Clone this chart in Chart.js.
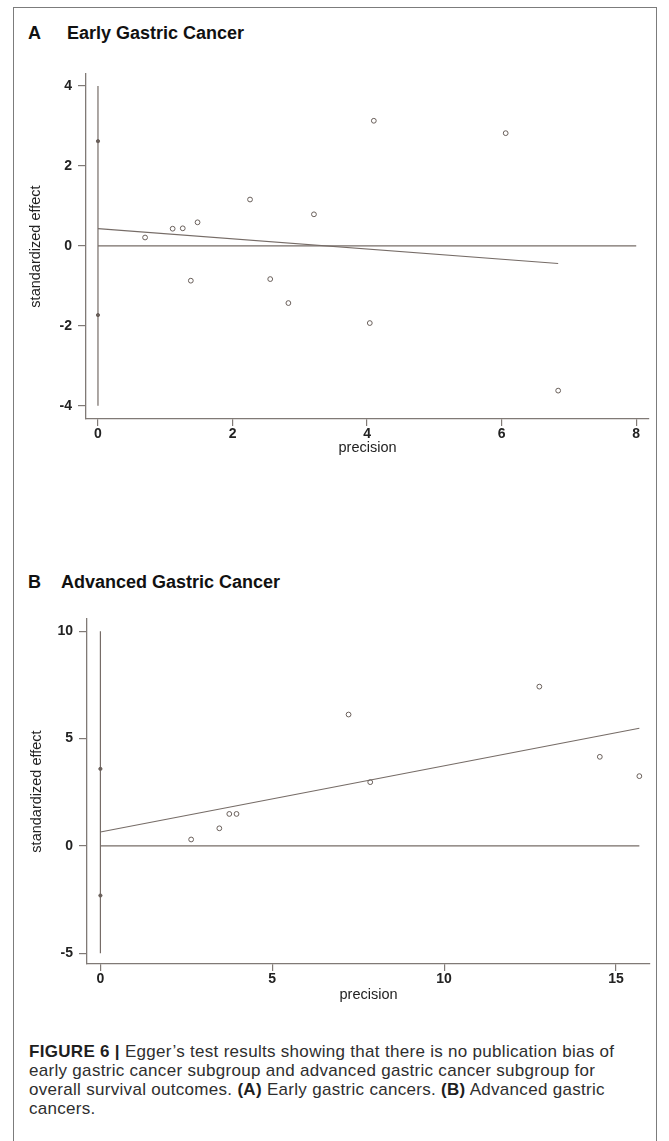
<!DOCTYPE html>
<html>
<head>
<meta charset="utf-8">
<script src="https://cdn.jsdelivr.net/npm/chart.js@4.4.1/dist/chart.umd.min.js"></script>
<style>
html,body{margin:0;padding:0;background:#fff;}
body{width:669px;height:1141px;position:relative;overflow:hidden;font-family:"Liberation Sans",Arial,sans-serif;}
#frame{position:absolute;left:13px;top:7px;width:644px;height:1160px;border:1.5px solid #7c7c7c;box-sizing:border-box;}
.ptitle{position:absolute;font-weight:bold;font-size:18px;line-height:18px;color:#111;white-space:nowrap;}
canvas.cv{position:absolute;left:0;}
#caption{position:absolute;left:29px;top:1042px;font-size:17px;letter-spacing:0.3px;line-height:19px;color:#2e2e2e;white-space:nowrap;}
#caption b{font-weight:bold;color:#1e1e1e;}
</style>
</head>
<body>
<div id="frame"></div>

<div class="ptitle" style="left:28px;top:24px;">A</div>
<div class="ptitle" style="left:67px;top:24px;">Early Gastric Cancer</div>
<canvas id="chartA" class="cv" width="669" height="420" style="top:50px;width:669px;height:420px;"></canvas>

<div class="ptitle" style="left:28px;top:573px;">B</div>
<div class="ptitle" style="left:61px;top:573px;">Advanced Gastric Cancer</div>
<canvas id="chartB" class="cv" width="669" height="420" style="top:600px;width:669px;height:420px;"></canvas>

<div id="caption"><b>FIGURE 6 |</b> Egger’s test results showing that there is no publication bias of<br>early gastric cancer subgroup and advanced gastric cancer subgroup for<br>overall survival outcomes. <b>(A)</b> Early gastric cancers. <b>(B)</b> Advanced gastric<br>cancers.</div>

<script>
// ---------- Panel A: Early Gastric Cancer ----------
const xTicksA = [0, 2, 4, 6, 8];
const yTicksA = [-4, -2, 0, 2, 4];
const precisionA = [0.70, 1.11, 1.26, 1.48, 1.38, 2.26, 2.56, 3.21, 2.83, 4.04, 4.10, 6.06, 6.84];
const effectA    = [0.21, 0.43, 0.44, 0.59, -0.87, 1.16, -0.83, 0.79, -1.43, -1.93, 3.13, 2.82, -3.62];
const fitXA = [0, 6.84];
const fitYA = [0.43, -0.44];
const ciA = [2.62, -1.73];
const zeroLineXA = [0, 8];
const interceptLineYA = [-4, 4];

// ---------- Panel B: Advanced Gastric Cancer ----------
const xTicksB = [0, 5, 10, 15];
const yTicksB = [-5, 0, 5, 10];
const precisionB = [2.64, 3.46, 3.75, 3.96, 7.22, 7.85, 12.77, 14.53, 15.68];
const effectB    = [0.30, 0.82, 1.49, 1.49, 6.12, 2.97, 7.42, 4.15, 3.25];
const fitXB = [0, 15.68];
const fitYB = [0.65, 5.48];
const ciB = [3.59, -2.31];
const zeroLineXB = [0, 15.68];
const interceptLineYB = [-5, 10];

const FONT = '"Liberation Sans", Arial, sans-serif';
const AXIS = 'rgb(128,122,118)';
const LINE = 'rgb(118,108,103)';
const MARK = 'rgb(105,95,90)';

function pts(xs, ys) { return xs.map((x, i) => ({ x: x, y: ys[i] })); }

function buildChart(id, o) {
  const lineDs = (data) => ({ data: data, showLine: true, borderColor: LINE, borderWidth: 1.2, pointRadius: 0, fill: false });
  return new Chart(document.getElementById(id), {
    type: 'scatter',
    data: {
      datasets: [
        { data: pts(o.px, o.py), showLine: false, pointStyle: 'circle', pointRadius: 2.4, pointBorderWidth: 1,
          pointBorderColor: MARK, pointBackgroundColor: 'rgba(255,255,255,0)' },
        { data: pts([0, 0], o.ci), showLine: false, pointStyle: 'circle', pointRadius: 1.6, pointBorderWidth: 1,
          pointBorderColor: MARK, pointBackgroundColor: MARK },
        lineDs(pts(o.fitX, o.fitY)),
        lineDs(pts(o.zeroX, [0, 0])),
        lineDs(pts([0, 0], o.vY))
      ]
    },
    options: {
      responsive: false,
      animation: false,
      events: [],
      layout: { padding: o.pad },
      plugins: { legend: { display: false }, tooltip: { enabled: false } },
      scales: {
        x: {
          type: 'linear', min: o.xMin, max: o.xMax,
          afterBuildTicks: s => { s.ticks = o.xTicks.map(v => ({ value: v })); },
          afterFit: s => { s.height = o.xH; },
          grid: { drawOnChartArea: false, drawTicks: true, tickLength: 7, color: AXIS, tickColor: AXIS, lineWidth: 1.2 },
          border: { display: true, color: AXIS, width: 1.3 },
          ticks: { padding: 0, color: '#222', autoSkip: false, maxRotation: 0,
                   font: { family: FONT, size: 14, weight: 'bold' } },
          title: { display: true, text: 'precision', color: '#222',
                   font: { family: FONT, size: 14.5, lineHeight: 1.2 }, padding: { top: 0, bottom: o.xTitlePad } }
        },
        y: {
          type: 'linear', min: o.yMin, max: o.yMax,
          afterBuildTicks: s => { s.ticks = o.yTicks.map(v => ({ value: v })); },
          afterFit: s => { s.width = o.yW; },
          grid: { drawOnChartArea: false, drawTicks: true, tickLength: 8, color: AXIS, tickColor: AXIS, lineWidth: 1.2 },
          border: { display: true, color: AXIS, width: 1.3 },
          ticks: { padding: 6, color: '#222', autoSkip: false,
                   font: { family: FONT, size: 14, weight: 'bold' } },
          title: { display: true, text: 'standardized effect', color: '#222',
                   font: { family: FONT, size: 14.5, lineHeight: 1.2 }, padding: { top: o.yTitlePad, bottom: 0 } }
        }
      }
    }
  });
}

buildChart('chartA', {
  px: precisionA, py: effectA, ci: ciA, fitX: fitXA, fitY: fitYA, zeroX: zeroLineXA, vY: interceptLineYA,
  xTicks: xTicksA, yTicks: yTicksA,
  xMin: -0.178, xMax: 8.19, yMin: -4.33, yMax: 4.3,
  pad: { left: 0, top: 24, right: 20, bottom: 0 },
  xH: 51, yW: 86, xTitlePad: 13.3, yTitlePad: 27.3
});

buildChart('chartB', {
  px: precisionB, py: effectB, ci: ciB, fitX: fitXB, fitY: fitYB, zeroX: zeroLineXB, vY: interceptLineYB,
  xTicks: xTicksB, yTicks: yTicksB,
  xMin: -0.39, xMax: 15.99, yMin: -5.5, yMax: 10.57,
  pad: { left: 0, top: 19, right: 19, bottom: 0 },
  xH: 56, yW: 87, xTitlePad: 16.3, yTitlePad: 28.3
});
</script>
</body>
</html>
